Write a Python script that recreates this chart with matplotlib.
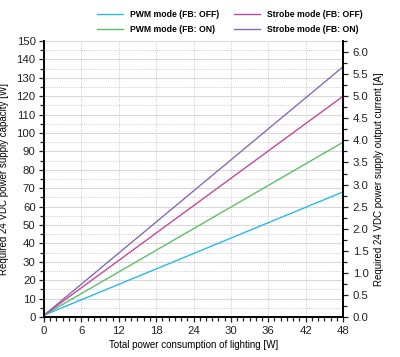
import matplotlib
matplotlib.use("Agg")
import matplotlib.pyplot as plt
from matplotlib.ticker import MultipleLocator, FormatStrFormatter

plt.rcParams['font.family'] = ['Liberation Sans', 'DejaVu Sans']

x = [0, 48]
pwm_off = [1, 68]
pwm_on = [1, 95]
strobe_off = [1, 120]
strobe_on = [1, 136]
series = [
    ("PWM mode (FB: OFF)", pwm_off, "#2bb9ec"),
    ("PWM mode (FB: ON)", pwm_on, "#5cc06a"),
    ("Strobe mode (FB: OFF)", strobe_off, "#c7479a"),
    ("Strobe mode (FB: ON)", strobe_on, "#8a6bb0"),
]

fig = plt.figure(figsize=(4.0, 3.57), dpi=100)
ax = fig.add_axes([0.11, 0.112, 0.7475, 0.773])

handles = []
for lab, y, c in series:
    h, = ax.plot(x, y, color=c, lw=1.0, label=lab)
    handles.append(h)

ax.set_xlim(0, 48)
ax.set_ylim(0, 150)
ax.xaxis.set_major_locator(MultipleLocator(6))
ax.xaxis.set_minor_locator(MultipleLocator(1))
ax.yaxis.set_major_locator(MultipleLocator(10))
ax.yaxis.set_minor_locator(MultipleLocator(5))

ax.grid(which='major', axis='y', color='#d8d8d8', lw=0.8, ls='-')
ax.grid(which='minor', axis='y', color='#bfbfbf', lw=0.6, ls=(0, (1, 1.5)))
ax.grid(which='major', axis='x', color='#bfbfbf', lw=0.6, ls=(0, (1, 1.5)))
ax.set_axisbelow(True)

ax.spines['top'].set_visible(False)
ax.spines['right'].set_visible(False)
ax.spines['left'].set_linewidth(1.4)
ax.spines['bottom'].set_linewidth(1.4)

ax.tick_params(which='both', direction='out', labelsize=8.2, width=0.9, colors='#222222')
ax.tick_params(which='major', length=3.5)
ax.tick_params(which='minor', length=3)
ax.tick_params(axis='x', pad=3)
ax.tick_params(axis='y', pad=2.5)

ax.set_xlabel("Total power consumption of lighting [W]", fontsize=7, labelpad=3)
ax.set_ylabel("Required 24 VDC power supply capacity [W]", fontsize=7)
ax.yaxis.set_label_coords(-0.118, 0.5)

ax2 = ax.twinx()
ax2.set_ylim(0, 150 / 24)
ax2.yaxis.set_major_locator(MultipleLocator(0.5))
ax2.yaxis.set_minor_locator(MultipleLocator(0.25))
ax2.yaxis.set_major_formatter(FormatStrFormatter('%.1f'))
for s in ['top', 'left', 'bottom']:
    ax2.spines[s].set_visible(False)
ax2.spines['right'].set_linewidth(1.4)
ax2.tick_params(which='both', direction='out', labelsize=8.2, width=0.9, colors='#222222')
ax2.tick_params(which='major', length=3.5)
ax2.tick_params(which='minor', length=3)
ax2.set_ylabel("Required 24 VDC power supply output current [A]", fontsize=7, labelpad=4)

leg = fig.legend(handles, [s[0] for s in series],
                 loc='upper center', bbox_to_anchor=(0.575, 0.995), ncol=2, frameon=False,
                 prop={'weight': 'bold', 'size': 6.2}, handlelength=3.0, columnspacing=1.8,
                 handletextpad=0.8, labelspacing=0.75)

fig.savefig("out.png", dpi=100)
